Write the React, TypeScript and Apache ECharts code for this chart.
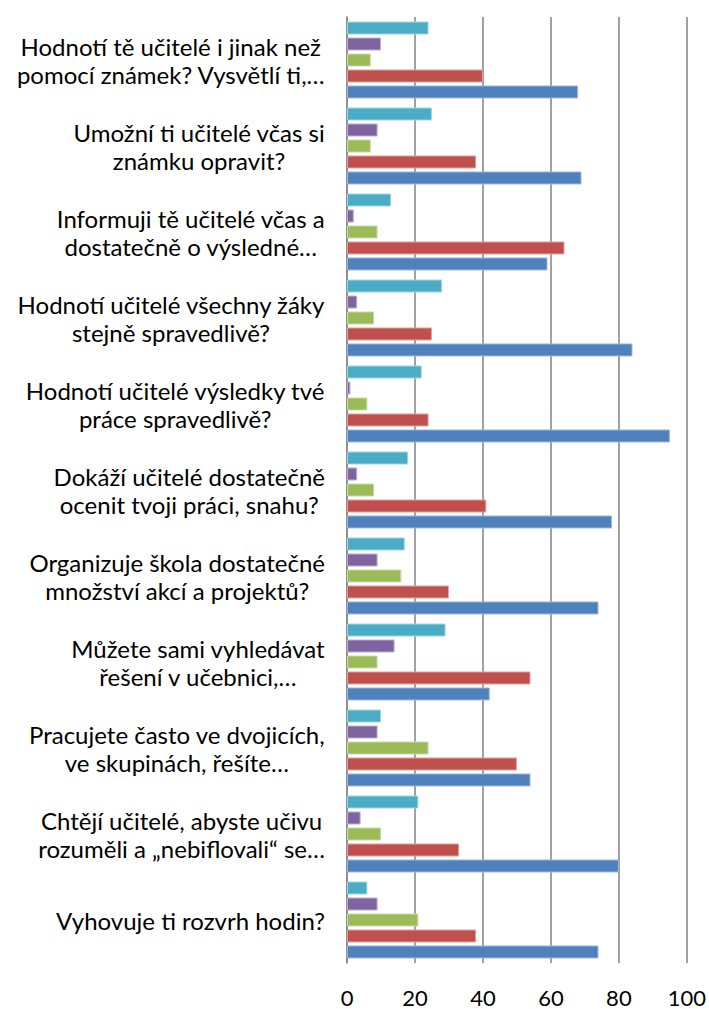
import React, { useEffect, useRef } from "react";
import * as echarts from "echarts";

const categories: string[] = [
  "Hodnotí tě učitelé i jinak než\npomocí známek? Vysvětlí ti,…",
  "Umožní ti učitelé včas si\nznámku opravit?",
  "Informuji tě učitelé včas a\ndostatečně o výsledné…",
  "Hodnotí učitelé všechny žáky\nstejně spravedlivě?",
  "Hodnotí učitelé výsledky tvé\npráce spravedlivě?",
  "Dokáží učitelé dostatečně\nocenit tvoji práci, snahu?",
  "Organizuje škola dostatečné\nmnožství akcí a projektů?",
  "Můžete sami vyhledávat\nřešení v učebnici,…",
  "Pracujete často ve dvojicích,\nve skupinách, řešíte…",
  "Chtějí učitelé, abyste učivu\nrozuměli a „nebiflovali“ se…",
  "Vyhovuje ti rozvrh hodin?",
];

const seriesNames: string[] = ["Řada 5", "Řada 4", "Řada 3", "Řada 2", "Řada 1"];
const cyanValues: number[] = [24, 25, 13, 28, 22, 18, 17, 29, 10, 21, 6];
const purpleValues: number[] = [10, 9, 2, 3, 1, 3, 9, 14, 9, 4, 9];
const greenValues: number[] = [7, 7, 9, 8, 6, 8, 16, 9, 24, 10, 21];
const redValues: number[] = [40, 38, 64, 25, 24, 41, 30, 54, 50, 33, 38];
const blueValues: number[] = [68, 69, 59, 84, 95, 78, 74, 42, 54, 80, 74];
const xTicks: number[] = [0, 20, 40, 60, 80, 100];

const colors = ["#4BACC6", "#8064A2", "#9BBB59", "#C0504D", "#4F81BD"];
const borders = ["#A0D6E4", "#BCAED0", "#C9DCA4", "#E0A2A0", "#9DB8DC"];

export default function App() {
  const ref = useRef<HTMLDivElement>(null);
  useEffect(() => {
    if (!ref.current) return;
    const chart = echarts.init(ref.current, null, { renderer: "svg" });
    const data = [cyanValues, purpleValues, greenValues, redValues, blueValues];
    chart.setOption({
      animation: false,
      backgroundColor: "#ffffff",
      grid: { left: 347, right: 22, top: 17, bottom: 46, containLabel: false },
      xAxis: {
        type: "value",
        min: xTicks[0],
        max: xTicks[xTicks.length - 1],
        interval: 20,
        axisLine: { show: false },
        axisTick: { show: false },
        axisLabel: {
          fontSize: 22,
          lineHeight: 18,
          fontFamily: "Lato",
          color: "#000",
          margin: 25,
        },
        splitLine: { show: true, lineStyle: { color: "#8a8a8a", width: 1.6 } },
      },
      yAxis: {
        type: "category",
        inverse: true,
        data: categories,
        axisLine: { show: true, lineStyle: { color: "#8a8a8a", width: 1.6 } },
        axisTick: { show: false },
        axisLabel: {
          margin: 22,
          align: "right",
          interval: 0,
          formatter: (v: string) =>
            v.split("\n").map((l) => `{c|${l}}`).join("\n"),
          rich: {
            c: {
              fontSize: 24,
              fontFamily: "Lato",
              color: "#000",
              lineHeight: 28,
              align: "center",
            },
          },
        },
      },
      series: data.map((vals, i) => ({
        name: seriesNames[i],
        type: "bar",
        data: vals,
        barWidth: 13,
        barGap: "23%",
        itemStyle: { color: colors[i], borderColor: borders[i], borderWidth: 1 },
      })),
    });
    return () => chart.dispose();
  }, []);
  return (
    <div
      ref={ref}
      style={{ position: "fixed", left: 0, top: 0, width: 709, height: 1009 }}
    />
  );
}
